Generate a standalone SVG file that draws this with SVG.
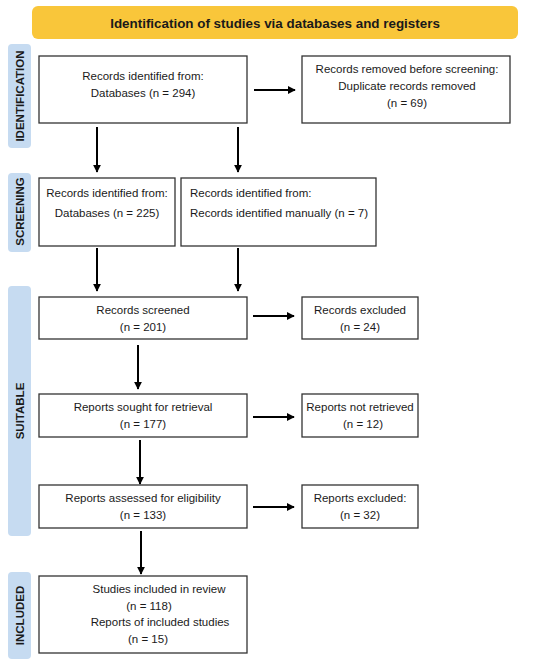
<svg xmlns="http://www.w3.org/2000/svg" width="550" height="664" viewBox="0 0 550 664">
<style>
.box{fill:#fff;stroke:#333;stroke-width:1.3}
.lab{fill:#c6dbf1}
.t{font-family:"Liberation Sans",Arial,sans-serif;font-size:11.5px;fill:#1a1a1a;text-anchor:middle}
.tl{text-anchor:start}
.side{font-family:"Liberation Sans",Arial,sans-serif;font-size:11.5px;font-weight:bold;fill:#1a1a1a;text-anchor:middle}
.c{stroke:#000;stroke-width:2;fill:none;marker-end:url(#ah)}
</style>
<defs>
<marker id="ah" viewBox="0 0 10 10" refX="9" refY="5" markerWidth="4" markerHeight="4" orient="auto" markerUnits="strokeWidth">
<path d="M0,0 L10,5 L0,10 z" fill="#000"/>
</marker>
</defs>
<rect width="550" height="664" fill="#fff"/>
<g id="banner">
<rect x="32" y="6" width="486" height="33" rx="6" fill="#f9c63a"/>
<text x="275" y="27.5" class="t" style="font-weight:bold;font-size:13.4px">Identification of studies via databases and registers</text>
</g>
<g id="lab-identification">
<rect class="lab" x="8" y="44" width="23" height="104" rx="4"/>
<text class="side" transform="translate(23.5,96) rotate(-90)">IDENTIFICATION</text>
</g>
<g id="lab-screening">
<rect class="lab" x="8" y="173" width="23" height="79" rx="4"/>
<text class="side" transform="translate(23.5,211.5) rotate(-90)">SCREENING</text>
</g>
<g id="lab-suitable">
<rect class="lab" x="8" y="286" width="23" height="250" rx="4"/>
<text class="side" transform="translate(23.5,411) rotate(-90)">SUITABLE</text>
</g>
<g id="lab-included">
<rect class="lab" x="8" y="572" width="23" height="87" rx="4"/>
<text class="side" transform="translate(23.5,615.5) rotate(-90)">INCLUDED</text>
</g>
<g id="n1">
<rect class="box" x="39" y="56" width="208" height="67"/>
<text class="t" x="143" y="80">Records identified from:</text>
<text class="t" x="143" y="97">Databases (n = 294)</text>
</g>
<g id="n2">
<rect class="box" x="302" y="56" width="208" height="67"/>
<text class="t" x="407" y="73">Records removed before screening:</text>
<text class="t" x="407" y="90">Duplicate records removed</text>
<text class="t" x="407" y="107">(n = 69)</text>
</g>
<g id="n3">
<rect class="box" x="39" y="178" width="136" height="68"/>
<text class="t" x="107" y="197">Records identified from:</text>
<text class="t" x="107" y="217">Databases (n = 225)</text>
</g>
<g id="n4">
<rect class="box" x="181" y="178" width="195" height="68"/>
<text class="t tl" x="190" y="197">Records identified from:</text>
<text class="t tl" x="190" y="217">Records identified manually (n = 7)</text>
</g>
<g id="n5">
<rect class="box" x="39" y="297" width="208" height="42"/>
<text class="t" x="143" y="314">Records screened</text>
<text class="t" x="143" y="331">(n = 201)</text>
</g>
<g id="n6">
<rect class="box" x="302" y="297" width="116" height="42"/>
<text class="t" x="360" y="314">Records excluded</text>
<text class="t" x="360" y="331">(n = 24)</text>
</g>
<g id="n7">
<rect class="box" x="39" y="394" width="208" height="43"/>
<text class="t" x="143" y="411">Reports sought for retrieval</text>
<text class="t" x="143" y="428">(n = 177)</text>
</g>
<g id="n8">
<rect class="box" x="302" y="394" width="116" height="43"/>
<text class="t" x="360" y="411">Reports not retrieved</text>
<text class="t" x="363" y="428">(n = 12)</text>
</g>
<g id="n9">
<rect class="box" x="39" y="485" width="208" height="43"/>
<text class="t" x="143" y="502">Reports assessed for eligibility</text>
<text class="t" x="143" y="519">(n = 133)</text>
</g>
<g id="n10">
<rect class="box" x="302" y="485" width="116" height="43"/>
<text class="t" x="360" y="502">Reports excluded:</text>
<text class="t" x="360" y="519">(n = 32)</text>
</g>
<g id="n11">
<rect class="box" x="39" y="576" width="208" height="77"/>
<text class="t" x="159" y="593">Studies included in review</text>
<text class="t" x="149" y="610">(n = 118)</text>
<text class="t" x="160" y="626">Reports of included studies</text>
<text class="t" x="148" y="643">(n = 15)</text>
</g>
<g id="connectors">
<line class="c" x1="254" y1="90" x2="295" y2="90"/>
<line class="c" x1="97" y1="127" x2="97" y2="172"/>
<line class="c" x1="238" y1="127" x2="238" y2="172"/>
<line class="c" x1="97" y1="248" x2="97" y2="291"/>
<line class="c" x1="238" y1="248" x2="238" y2="291"/>
<line class="c" x1="253" y1="316" x2="294" y2="316"/>
<line class="c" x1="138" y1="345" x2="138" y2="389"/>
<line class="c" x1="253" y1="417" x2="294" y2="417"/>
<line class="c" x1="140" y1="440" x2="140" y2="484"/>
<line class="c" x1="253" y1="507" x2="294" y2="507"/>
<line class="c" x1="141" y1="531" x2="141" y2="574"/>
</g>
</svg>
